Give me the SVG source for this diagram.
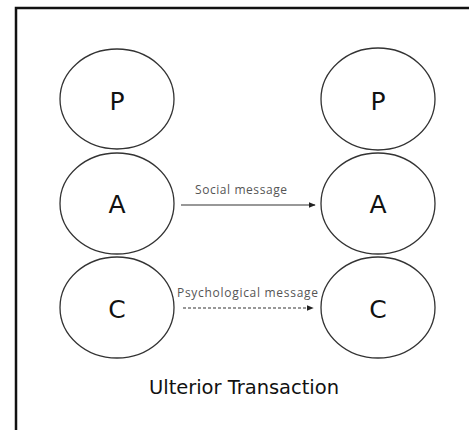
<svg xmlns="http://www.w3.org/2000/svg" width="469" height="430" viewBox="0 0 469 430">
<defs>
<style>
.ego{fill:#fff;stroke:#333;stroke-width:1.3}
.ltr{font-family:"DejaVu Sans",sans-serif;font-size:25px;fill:#111;text-anchor:middle}
.msg{font-family:"Open Sans","DejaVu Sans",sans-serif;font-size:12px;fill:#555}
.title{font-family:"DejaVu Sans",sans-serif;font-size:19.5px;fill:#111}
.conn{stroke:#333;stroke-width:1.2;fill:none}
</style>
<marker id="ah" viewBox="0 0 10 10" refX="9" refY="5" markerWidth="6" markerHeight="6" orient="auto">
<path d="M0,1 L10,5 L0,9 z" fill="#222"/>
</marker>
</defs>
<rect width="469" height="430" fill="#fff"/>
<path d="M16,430 V8 H469" fill="none" stroke="#111" stroke-width="2.5"/>
<g id="left-P"><ellipse class="ego" cx="117" cy="99" rx="57" ry="50"/><text class="ltr" x="117" y="110">P</text></g>
<g id="left-A"><ellipse class="ego" cx="117" cy="203.5" rx="57" ry="50.5"/><text class="ltr" x="117" y="213">A</text></g>
<g id="left-C"><ellipse class="ego" cx="117" cy="307.5" rx="57" ry="50.5"/><text class="ltr" x="117" y="318">C</text></g>
<g id="right-P"><ellipse class="ego" cx="378" cy="99" rx="57" ry="51"/><text class="ltr" x="378" y="110">P</text></g>
<g id="right-A"><ellipse class="ego" cx="378" cy="203.5" rx="57" ry="50.5"/><text class="ltr" x="378" y="213">A</text></g>
<g id="right-C"><ellipse class="ego" cx="378" cy="307.5" rx="57" ry="50.5"/><text class="ltr" x="378" y="318">C</text></g>
<g id="connectors">
<line class="conn" x1="181" y1="205" x2="315" y2="205" marker-end="url(#ah)"/>
<line class="conn" x1="183" y1="308" x2="313" y2="308" stroke-dasharray="3,2" marker-end="url(#ah)"/>
<text class="msg" x="195" y="194" textLength="92">Social message</text>
<text class="msg" x="177" y="297" textLength="141">Psychological  message</text>
</g>
<text class="title" x="149" y="394" textLength="190">Ulterior Transaction</text>
</svg>
